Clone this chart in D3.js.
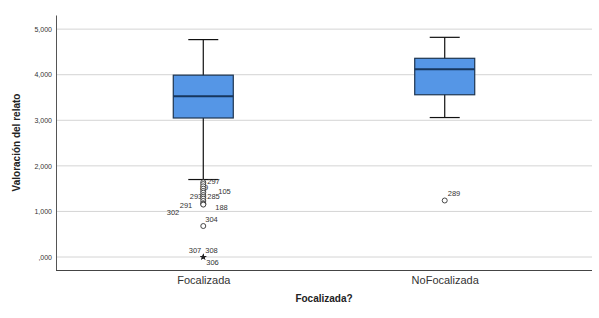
<!DOCTYPE html>
<html>
<head>
<meta charset="utf-8">
<script src="https://cdn.jsdelivr.net/npm/d3@7"></script>
<style>
  body { margin: 0; background: #fff; }
  text { font-family: "Liberation Sans", Arial, sans-serif; }
</style>
</head>
<body>
<div id="chart"></div>
<script>
(function () {
  // Data
  const categories = ["Focalizada", "NoFocalizada"];
  const whiskerLow = [1.70, 3.06];
  const q1 = [3.05, 3.56];
  const median = [3.53, 4.12];
  const q3 = [3.99, 4.36];
  const whiskerHigh = [4.77, 4.82];

  // outliers (circles): case id, value; null id = label hidden
  const focOutlierIds = [297, null, 89, null, 105, null, 293, 285, null, null, 291, 188, 302, 304];
  const focOutlierVals = [1.64, 1.60, 1.55, 1.50, 1.45, 1.41, 1.36, 1.32, 1.28, 1.23, 1.18, 1.16, 1.15, 0.68];
  const noFocOutlierIds = [289];
  const noFocOutlierVals = [1.24];
  // extremes (stars)
  const focExtremeIds = [307, 308, 306];
  const focExtremeVals = [0, 0, 0];

  const yTicks = [0, 1, 2, 3, 4, 5];
  const yTickLabels = [",000", "1,000", "2,000", "3,000", "4,000", "5,000"];

  const W = 599, H = 318;
  const margin = { top: 15, right: 7, bottom: 48, left: 56 };

  const svg = d3.select("#chart").append("svg")
    .attr("width", W)
    .attr("height", H);

  const x = d3.scalePoint()
    .domain(categories)
    .range([margin.left, W - margin.right])
    .padding(0.61);

  const y = d3.scaleLinear()
    .domain([-0.285, 5.31])
    .range([H - margin.bottom, margin.top]);

  // gridlines
  svg.append("g")
    .selectAll("line")
    .data(yTicks)
    .join("line")
    .attr("x1", margin.left)
    .attr("x2", W - margin.right)
    .attr("y1", (d) => y(d))
    .attr("y2", (d) => y(d))
    .attr("stroke", "#d4d4d4")
    .attr("stroke-width", 1);

  // y axis
  const yAxis = d3.axisLeft(y)
    .tickValues(yTicks)
    .tickSize(0)
    .tickPadding(4)
    .tickFormat((d, i) => yTickLabels[i]);

  const yAxisGroup = svg.append("g")
    .attr("transform", `translate(${margin.left},0)`)
    .call(yAxis);
  yAxisGroup.select(".domain").attr("stroke", "#555");
  yAxisGroup.selectAll(".tick text")
    .attr("font-size", 7)
    .attr("fill", "#333")
    .style("font-family", "'Liberation Sans', Arial, sans-serif");

  // x axis
  const xAxis = d3.axisBottom(x).tickSize(0).tickPadding(6);
  const xAxisGroup = svg.append("g")
    .attr("transform", `translate(0,${H - margin.bottom})`)
    .call(xAxis);
  xAxisGroup.select(".domain").attr("stroke", "#444").attr("d", `M${margin.left},0.5H${W - margin.right}`);
  xAxisGroup.selectAll(".tick text")
    .attr("font-size", 11)
    .attr("fill", "#333")
    .style("font-family", "'Liberation Sans', Arial, sans-serif");

  // axis titles
  svg.append("text")
    .attr("transform", `translate(20,${(margin.top + H - margin.bottom) / 2}) rotate(-90)`)
    .attr("text-anchor", "middle")
    .attr("font-size", 10)
    .attr("font-weight", "bold")
    .attr("fill", "#222")
    .text("Valoración del relato");

  svg.append("text")
    .attr("x", (margin.left + W - margin.right) / 2)
    .attr("y", 302)
    .attr("text-anchor", "middle")
    .attr("font-size", 10)
    .attr("font-weight", "bold")
    .attr("fill", "#222")
    .text("Focalizada?");

  // boxes
  const boxW = 60;
  const capW = 30;
  const boxes = svg.append("g")
    .selectAll("g")
    .data(categories)
    .join("g");

  boxes.append("line")
    .attr("x1", (d) => x(d))
    .attr("x2", (d) => x(d))
    .attr("y1", (d, i) => y(whiskerHigh[i]))
    .attr("y2", (d, i) => y(whiskerLow[i]))
    .attr("stroke", "#111")
    .attr("stroke-width", 1.2);

  boxes.append("line")
    .attr("x1", (d) => x(d) - capW / 2)
    .attr("x2", (d) => x(d) + capW / 2)
    .attr("y1", (d, i) => y(whiskerHigh[i]))
    .attr("y2", (d, i) => y(whiskerHigh[i]))
    .attr("stroke", "#111")
    .attr("stroke-width", 1.2);

  boxes.append("line")
    .attr("x1", (d) => x(d) - capW / 2)
    .attr("x2", (d) => x(d) + capW / 2)
    .attr("y1", (d, i) => y(whiskerLow[i]))
    .attr("y2", (d, i) => y(whiskerLow[i]))
    .attr("stroke", "#111")
    .attr("stroke-width", 1.2);

  boxes.append("rect")
    .attr("x", (d) => x(d) - boxW / 2)
    .attr("width", boxW)
    .attr("y", (d, i) => y(q3[i]))
    .attr("height", (d, i) => y(q1[i]) - y(q3[i]))
    .attr("fill", "#5596e6")
    .attr("stroke", "#1e3550")
    .attr("stroke-width", 1.2);

  boxes.append("line")
    .attr("x1", (d) => x(d) - boxW / 2)
    .attr("x2", (d) => x(d) + boxW / 2)
    .attr("y1", (d, i) => y(median[i]))
    .attr("y2", (d, i) => y(median[i]))
    .attr("stroke", "#17365d")
    .attr("stroke-width", 2);

  // outlier label placement (pixel offsets from marker)
  const labelPlace = {
    297: [4, -1, "start"], 89: [5, 1, "end"], 105: [15, 0, "start"],
    293: [-1, 1, "end"], 285: [4, 0, "start"], 291: [-11, 2, "end"],
    188: [12, 3, "start"], 302: [-24, 8, "end"], 304: [2, -7, "start"],
    289: [3, -7, "start"], 307: [-2, -7, "end"], 308: [2, -7, "start"],
    306: [3, 5, "start"]
  };

  const outliers = [];
  focOutlierVals.forEach((v, i) => outliers.push({ cat: categories[0], v, id: focOutlierIds[i] }));
  noFocOutlierVals.forEach((v, i) => outliers.push({ cat: categories[1], v, id: noFocOutlierIds[i] }));
  const extremes = focExtremeVals.map((v, i) => ({ cat: categories[0], v, id: focExtremeIds[i] }));

  const labelled = outliers.concat(extremes).filter((d) => d.id !== null && labelPlace[d.id]);

  svg.append("g")
    .selectAll("text")
    .data(labelled)
    .join("text")
    .attr("x", (d) => x(d.cat) + labelPlace[d.id][0])
    .attr("y", (d) => y(d.v) + labelPlace[d.id][1])
    .attr("dy", "0.35em")
    .attr("text-anchor", (d) => labelPlace[d.id][2])
    .attr("font-size", 7.5)
    .attr("fill", "#333")
    .text((d) => d.id);

  svg.append("g")
    .selectAll("circle")
    .data(outliers)
    .join("circle")
    .attr("cx", (d) => x(d.cat))
    .attr("cy", (d) => y(d.v))
    .attr("r", 2.5)
    .attr("fill", "#fff")
    .attr("stroke", "#333")
    .attr("stroke-width", 0.9);

  svg.append("g")
    .selectAll("path")
    .data(extremes)
    .join("path")
    .attr("d", d3.symbol().type(d3.symbolStar).size(14))
    .attr("transform", (d) => `translate(${x(d.cat)},${y(d.v)})`)
    .attr("fill", "#222");
})();
</script>
</body>
</html>
